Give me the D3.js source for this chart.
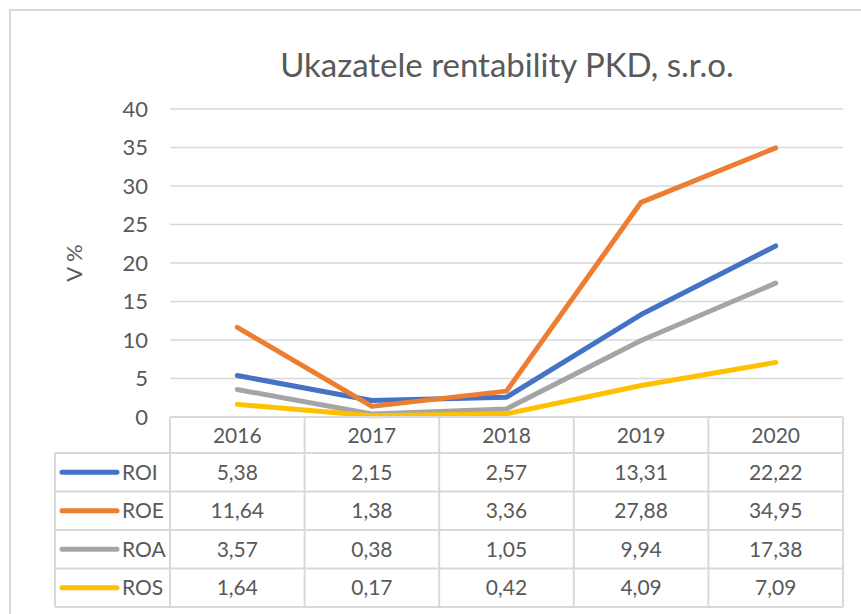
<!DOCTYPE html>
<html>
<head>
<meta charset="utf-8">
<script src="https://cdn.jsdelivr.net/npm/d3@7"></script>
<style>
  body { margin: 0; background: #fff; }
  svg { font-family: Lato, 'Open Sans', sans-serif; }
</style>
</head>
<body>
<div id="chart"></div>
<script>
const years = ['2016', '2017', '2018', '2019', '2020']
const seriesNames = ['ROI', 'ROE', 'ROA', 'ROS']
const roi = [5.38, 2.15, 2.57, 13.31, 22.22]
const roe = [11.64, 1.38, 3.36, 27.88, 34.95]
const roa = [3.57, 0.38, 1.05, 9.94, 17.38]
const ros = [1.64, 0.17, 0.42, 4.09, 7.09]
const yTicks = [0, 5, 10, 15, 20, 25, 30, 35, 40]
const colors = ['#4472C4', '#ED7D31', '#A5A5A5', '#FFC000']

const series = [roi, roe, roa, ros].map(function (v, i) {
  return { name: seriesNames[i], values: v, color: colors[i] }
})

const width = 861
const height = 614
const margin = { top: 109, right: 18, left: 170, bottom: 197 }
const plotBottom = 417
const rowH = 38.5
const headH = 36
const legendLeft = 55

const textColor = '#595959'
const gridColor = '#d9d9d9'
const fontSize = 21
const fmt = function (v) { return v.toFixed(2).replace('.', ',') }

const svg = d3.select('#chart').append('svg')
  .attr('width', width)
  .attr('height', height)

// chart border (runs off the right and bottom edge)
svg.append('path')
  .attr('d', 'M10,' + (height + 5) + 'V10H' + (width + 5))
  .attr('fill', 'none')
  .attr('stroke', gridColor)
  .attr('stroke-width', 2)

const x = d3.scaleBand().domain(years).range([170, 843])
const y = d3.scaleLinear().domain([0, 40]).range([plotBottom, margin.top])

// gridlines
svg.append('g').selectAll('line')
  .data(yTicks.filter(function (d) { return d > 0 }))
  .enter().append('line')
  .attr('x1', x.range()[0]).attr('x2', x.range()[1])
  .attr('y1', function (d) { return y(d) }).attr('y2', function (d) { return y(d) })
  .attr('stroke', gridColor)
  .attr('stroke-width', 1.5)

// y axis labels
svg.append('g').selectAll('text')
  .data(yTicks)
  .enter().append('text')
  .attr('x', 148)
  .attr('y', function (d) { return y(d) })
  .attr('dy', '0.35em')
  .attr('text-anchor', 'end')
  .attr('fill', textColor)
  .attr('font-size', fontSize + 1)
  .text(function (d) { return d })

svg.append('text')
  .attr('transform', 'translate(82,' + y(20) + ') rotate(-90)')
  .attr('text-anchor', 'middle')
  .attr('fill', textColor)
  .attr('font-size', fontSize + 1)
  .text('V %')

svg.append('text')
  .attr('x', 507)
  .attr('y', 77)
  .attr('text-anchor', 'middle')
  .attr('fill', textColor)
  .attr('font-size', 33)
  .text('Ukazatele rentability PKD, s.r.o.')

// lines
const line = d3.line()
  .x(function (d, i) { return x(years[i]) + x.bandwidth() / 2 })
  .y(function (d) { return y(d) })

svg.append('g').selectAll('path')
  .data(series)
  .enter().append('path')
  .attr('d', function (d) { return line(d.values) })
  .attr('fill', 'none')
  .attr('stroke', function (d) { return d.color })
  .attr('stroke-width', 5)
  .attr('stroke-linecap', 'round')
  .attr('stroke-linejoin', 'round')

// data table
const table = svg.append('g')
const tableBottom = plotBottom + headH + rowH * series.length
const rowY = function (i) { return plotBottom + headH + rowH * i }

// horizontal borders
table.append('line')
  .attr('x1', x.range()[0]).attr('x2', x.range()[1])
  .attr('y1', plotBottom).attr('y2', plotBottom)
table.selectAll('.hline')
  .data(d3.range(series.length + 1))
  .enter().append('line')
  .attr('class', 'hline')
  .attr('x1', legendLeft).attr('x2', x.range()[1])
  .attr('y1', function (i) { return rowY(i) }).attr('y2', function (i) { return rowY(i) })
// vertical borders
table.append('line')
  .attr('x1', legendLeft).attr('x2', legendLeft)
  .attr('y1', rowY(0)).attr('y2', tableBottom)
table.selectAll('.vline')
  .data(years.concat(['end']))
  .enter().append('line')
  .attr('class', 'vline')
  .attr('x1', function (d, i) { return x.range()[0] + x.step() * i })
  .attr('x2', function (d, i) { return x.range()[0] + x.step() * i })
  .attr('y1', plotBottom).attr('y2', tableBottom)
table.selectAll('line')
  .attr('stroke', gridColor)
  .attr('stroke-width', 2)

// header
table.selectAll('.head')
  .data(years)
  .enter().append('text')
  .attr('class', 'head')
  .attr('x', function (d) { return x(d) + x.bandwidth() / 2 })
  .attr('y', plotBottom + headH / 2 + 1)
  .attr('dy', '0.35em')
  .attr('text-anchor', 'middle')
  .attr('fill', textColor)
  .attr('font-size', fontSize)
  .text(function (d) { return d })

const rows = table.selectAll('.row')
  .data(series)
  .enter().append('g')
  .attr('class', 'row')
  .attr('transform', function (d, i) { return 'translate(0,' + (rowY(i) + rowH / 2) + ')' })

rows.append('line')
  .attr('x1', 62).attr('x2', 117)
  .attr('stroke', function (d) { return d.color })
  .attr('stroke-width', 5)
  .attr('stroke-linecap', 'round')

rows.append('text')
  .attr('x', 122)
  .attr('dy', '0.35em')
  .attr('fill', textColor)
  .attr('font-size', fontSize)
  .text(function (d) { return d.name })

rows.selectAll('.val')
  .data(function (d) { return d.values })
  .enter().append('text')
  .attr('class', 'val')
  .attr('x', function (d, i) { return x(years[i]) + x.bandwidth() / 2 })
  .attr('dy', '0.35em')
  .attr('text-anchor', 'middle')
  .attr('fill', textColor)
  .attr('font-size', fontSize)
  .text(function (d) { return fmt(d) })
</script>
</body>
</html>
